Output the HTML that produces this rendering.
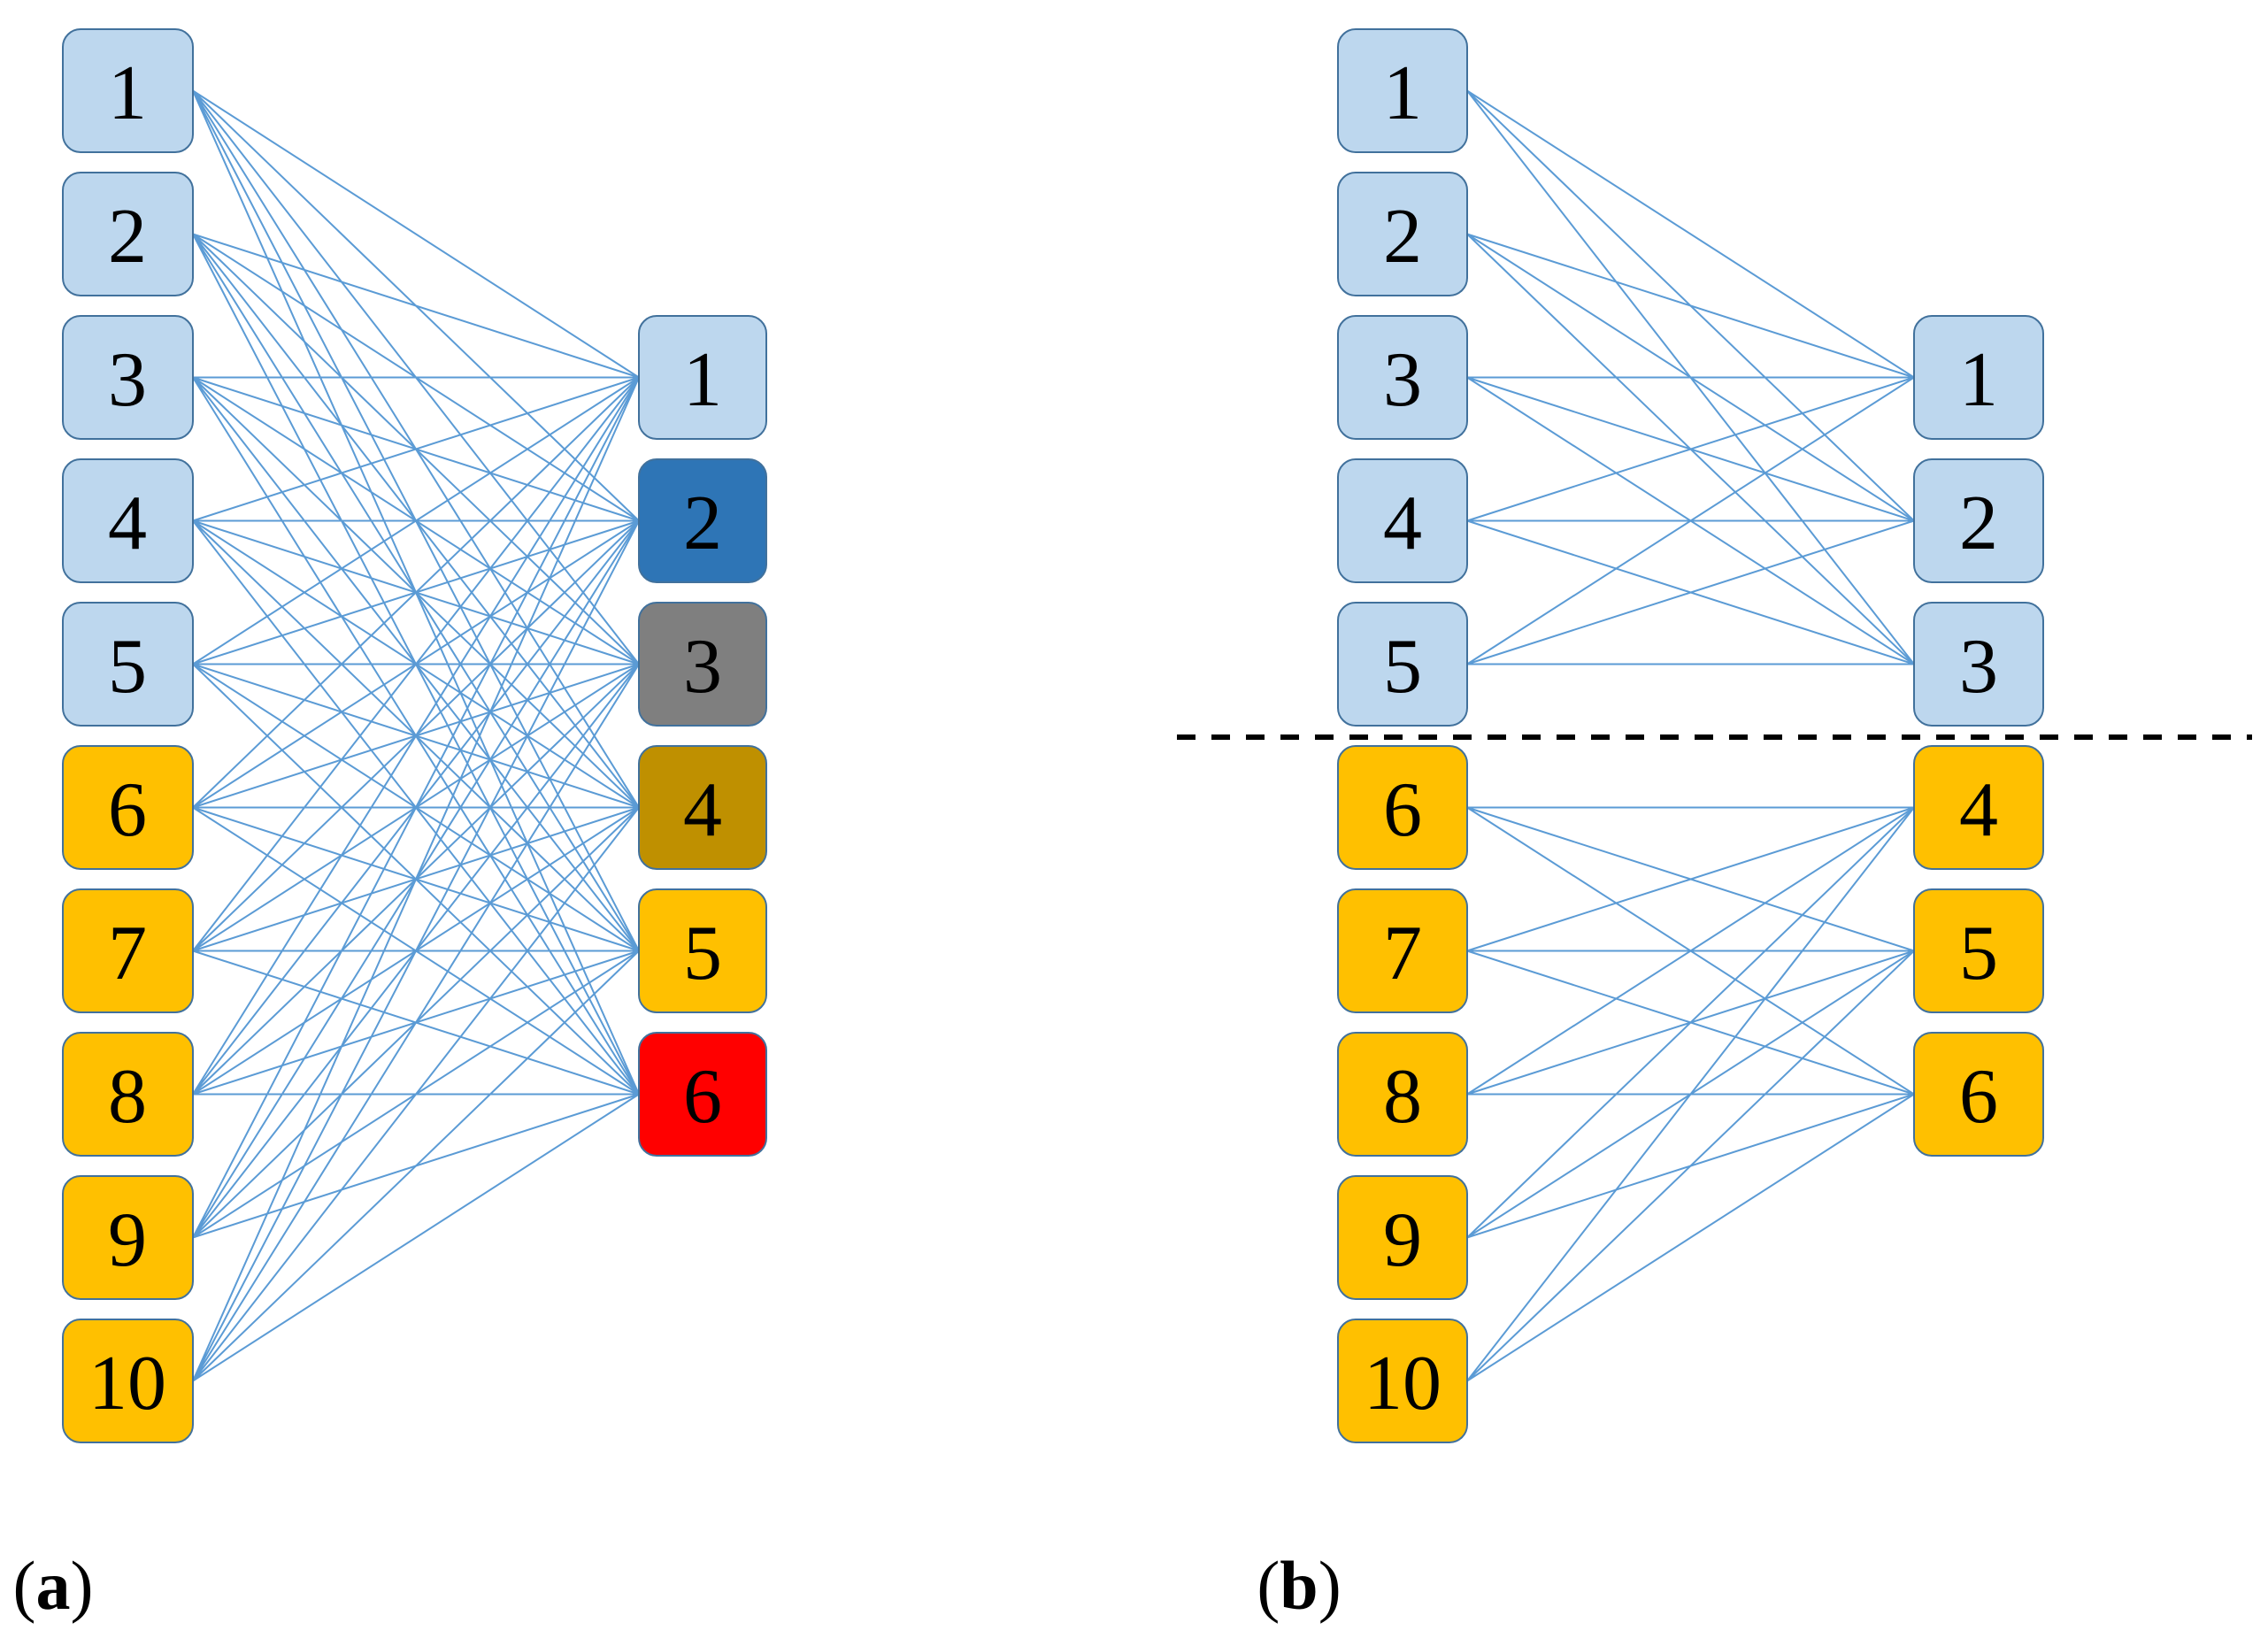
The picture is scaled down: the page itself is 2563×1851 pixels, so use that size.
<!DOCTYPE html>
<html><head><meta charset="utf-8"><style>
html,body{margin:0;padding:0;background:#fff;}
svg{display:block;}
text{font-family:"Liberation Serif","Times New Roman",serif;font-size:88px;text-anchor:middle;fill:#000;}
.lb{fill:#BDD7EE;stroke:#41719C;stroke-width:2;}
.yl{fill:#FFC000;stroke:#41719C;stroke-width:2;}
.ln{stroke:#5B9BD5;stroke-width:2;fill:none;}
</style></head><body>
<svg width="2563" height="1851" viewBox="0 0 2563 1851" font-family="Liberation Serif, serif">
<g class="ln">
<path d="M218 102.5L722 426.5M218 102.5L722 588.5M218 102.5L722 750.5M218 102.5L722 912.5M218 102.5L722 1074.5M218 102.5L722 1236.5"/>
<path d="M218 264.5L722 426.5M218 264.5L722 588.5M218 264.5L722 750.5M218 264.5L722 912.5M218 264.5L722 1074.5M218 264.5L722 1236.5"/>
<path d="M218 426.5L722 426.5M218 426.5L722 588.5M218 426.5L722 750.5M218 426.5L722 912.5M218 426.5L722 1074.5M218 426.5L722 1236.5"/>
<path d="M218 588.5L722 426.5M218 588.5L722 588.5M218 588.5L722 750.5M218 588.5L722 912.5M218 588.5L722 1074.5M218 588.5L722 1236.5"/>
<path d="M218 750.5L722 426.5M218 750.5L722 588.5M218 750.5L722 750.5M218 750.5L722 912.5M218 750.5L722 1074.5M218 750.5L722 1236.5"/>
<path d="M218 912.5L722 426.5M218 912.5L722 588.5M218 912.5L722 750.5M218 912.5L722 912.5M218 912.5L722 1074.5M218 912.5L722 1236.5"/>
<path d="M218 1074.5L722 426.5M218 1074.5L722 588.5M218 1074.5L722 750.5M218 1074.5L722 912.5M218 1074.5L722 1074.5M218 1074.5L722 1236.5"/>
<path d="M218 1236.5L722 426.5M218 1236.5L722 588.5M218 1236.5L722 750.5M218 1236.5L722 912.5M218 1236.5L722 1074.5M218 1236.5L722 1236.5"/>
<path d="M218 1398.5L722 426.5M218 1398.5L722 588.5M218 1398.5L722 750.5M218 1398.5L722 912.5M218 1398.5L722 1074.5M218 1398.5L722 1236.5"/>
<path d="M218 1560.5L722 426.5M218 1560.5L722 588.5M218 1560.5L722 750.5M218 1560.5L722 912.5M218 1560.5L722 1074.5M218 1560.5L722 1236.5"/>
<g transform="translate(-5,0)">
<path d="M1663 102.5L2168 426.5M1663 102.5L2168 588.5M1663 102.5L2168 750.5"/>
<path d="M1663 264.5L2168 426.5M1663 264.5L2168 588.5M1663 264.5L2168 750.5"/>
<path d="M1663 426.5L2168 426.5M1663 426.5L2168 588.5M1663 426.5L2168 750.5"/>
<path d="M1663 588.5L2168 426.5M1663 588.5L2168 588.5M1663 588.5L2168 750.5"/>
<path d="M1663 750.5L2168 426.5M1663 750.5L2168 588.5M1663 750.5L2168 750.5"/>
<path d="M1663 912.5L2168 912.5M1663 912.5L2168 1074.5M1663 912.5L2168 1236.5"/>
<path d="M1663 1074.5L2168 912.5M1663 1074.5L2168 1074.5M1663 1074.5L2168 1236.5"/>
<path d="M1663 1236.5L2168 912.5M1663 1236.5L2168 1074.5M1663 1236.5L2168 1236.5"/>
<path d="M1663 1398.5L2168 912.5M1663 1398.5L2168 1074.5M1663 1398.5L2168 1236.5"/>
<path d="M1663 1560.5L2168 912.5M1663 1560.5L2168 1074.5M1663 1560.5L2168 1236.5"/>
</g>
</g>
<line x1="1330" y1="833" x2="2545" y2="833" stroke="#000" stroke-width="6" stroke-dasharray="21 18"/>

<g>
<rect class="lb" x="71" y="33" width="147" height="139" rx="20"/><text x="144" y="134">1</text>
<rect class="lb" x="71" y="195" width="147" height="139" rx="20"/><text x="144" y="296">2</text>
<rect class="lb" x="71" y="357" width="147" height="139" rx="20"/><text x="144" y="458">3</text>
<rect class="lb" x="71" y="519" width="147" height="139" rx="20"/><text x="144" y="620">4</text>
<rect class="lb" x="71" y="681" width="147" height="139" rx="20"/><text x="144" y="782">5</text>
<rect class="yl" x="71" y="843" width="147" height="139" rx="20"/><text x="144" y="944">6</text>
<rect class="yl" x="71" y="1005" width="147" height="139" rx="20"/><text x="144" y="1106">7</text>
<rect class="yl" x="71" y="1167" width="147" height="139" rx="20"/><text x="144" y="1268">8</text>
<rect class="yl" x="71" y="1329" width="147" height="139" rx="20"/><text x="144" y="1430">9</text>
<rect class="yl" x="71" y="1491" width="147" height="139" rx="20"/><text x="144" y="1592">10</text>
</g>
<g>
<rect class="lb" x="722" y="357" width="144" height="139" rx="20"/><text x="794" y="458">1</text>
<rect x="722" y="519" width="144" height="139" rx="20" fill="#2E75B6" stroke="#41719C" stroke-width="2"/><text x="794" y="620">2</text>
<rect x="722" y="681" width="144" height="139" rx="20" fill="#7F7F7F" stroke="#41719C" stroke-width="2"/><text x="794" y="782">3</text>
<rect x="722" y="843" width="144" height="139" rx="20" fill="#BF9000" stroke="#41719C" stroke-width="2"/><text x="794" y="944">4</text>
<rect class="yl" x="722" y="1005" width="144" height="139" rx="20"/><text x="794" y="1106">5</text>
<rect x="722" y="1167" width="144" height="139" rx="20" fill="#FF0000" stroke="#41719C" stroke-width="2"/><text x="794" y="1268">6</text>
</g>
<g transform="translate(-5,0)">
<rect class="lb" x="1517" y="33" width="146" height="139" rx="20"/><text x="1590" y="134">1</text>
<rect class="lb" x="1517" y="195" width="146" height="139" rx="20"/><text x="1590" y="296">2</text>
<rect class="lb" x="1517" y="357" width="146" height="139" rx="20"/><text x="1590" y="458">3</text>
<rect class="lb" x="1517" y="519" width="146" height="139" rx="20"/><text x="1590" y="620">4</text>
<rect class="lb" x="1517" y="681" width="146" height="139" rx="20"/><text x="1590" y="782">5</text>
<rect class="yl" x="1517" y="843" width="146" height="139" rx="20"/><text x="1590" y="944">6</text>
<rect class="yl" x="1517" y="1005" width="146" height="139" rx="20"/><text x="1590" y="1106">7</text>
<rect class="yl" x="1517" y="1167" width="146" height="139" rx="20"/><text x="1590" y="1268">8</text>
<rect class="yl" x="1517" y="1329" width="146" height="139" rx="20"/><text x="1590" y="1430">9</text>
<rect class="yl" x="1517" y="1491" width="146" height="139" rx="20"/><text x="1590" y="1592">10</text>
<rect class="lb" x="2168" y="357" width="146" height="139" rx="20"/><text x="2241" y="458">1</text>
<rect class="lb" x="2168" y="519" width="146" height="139" rx="20"/><text x="2241" y="620">2</text>
<rect class="lb" x="2168" y="681" width="146" height="139" rx="20"/><text x="2241" y="782">3</text>
<rect class="yl" x="2168" y="843" width="146" height="139" rx="20"/><text x="2241" y="944">4</text>
<rect class="yl" x="2168" y="1005" width="146" height="139" rx="20"/><text x="2241" y="1106">5</text>
<rect class="yl" x="2168" y="1167" width="146" height="139" rx="20"/><text x="2241" y="1268">6</text>
</g>
<text x="60" y="1818" style="font-size:78px">(<tspan font-weight="bold">a</tspan>)</text>
<text x="1468" y="1818" style="font-size:78px">(<tspan font-weight="bold">b</tspan>)</text>
</svg>
</body></html>
